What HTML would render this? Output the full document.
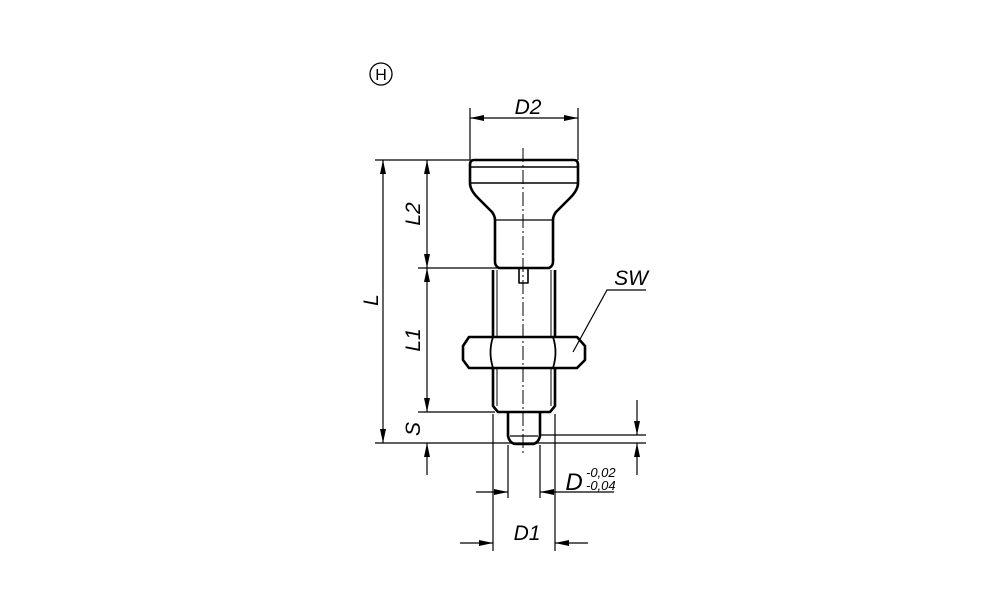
<!DOCTYPE html>
<html><head><meta charset="utf-8"><style>
html,body{margin:0;padding:0;background:#fff;}
svg text{font-family:"Liberation Sans",sans-serif;font-style:italic;fill:#000;}
</style></head><body>
<svg width="1000" height="611" viewBox="0 0 1000 611" xmlns="http://www.w3.org/2000/svg">
<defs>
<marker id="a" viewBox="0 0 14 6" refX="14" refY="3" markerWidth="14" markerHeight="6" orient="auto-start-reverse" markerUnits="userSpaceOnUse"><path d="M0,0 L14,3 L0,6 z" fill="#000"/></marker>
</defs>
<circle cx="381" cy="74" r="11" fill="none" stroke="#000" stroke-width="1.3"/>
<text x="381" y="80" font-size="16" text-anchor="middle" style="font-style:normal">H</text>

<g fill="none" stroke="#000" stroke-width="2.6" stroke-linejoin="round">
<path d="M474,160 L574,160 Q578,160 578,165 L578,183 Q578,190 570,198 L556,212 Q553,216 553,220 L553,262 Q553,266 549,268 L499,268 Q495,266 495,262 L495,220 Q495,216 492,212 L478,198 Q470,190 470,183 L470,165 Q470,160 474,160 Z"/>
<line x1="470" y1="167" x2="578" y2="167" stroke-width="1.6"/>
<line x1="470" y1="183" x2="578" y2="183" stroke-width="1.6"/>
<line x1="495" y1="220" x2="553" y2="220" stroke-width="1.2"/>
<path d="M493,270 L493,406 L498,412 L550,412 L555,406 L555,270"/>
<line x1="497" y1="270" x2="497" y2="406" stroke-width="1"/>
<line x1="551" y1="270" x2="551" y2="406" stroke-width="1"/>
<path d="M519,268 L519,283 L528,283 L528,268" stroke-width="1.6"/>
<path d="M463,346 L469,337 L577,337 L585,346 L585,360 L577,368 L469,368 L463,360 Z" fill="#fff"/>
<path d="M493,337 Q488,352 493,368 M553,337 Q558,352 553,368" stroke-width="1.8"/>
<path d="M508,412 L508,436 Q510,444 516,444 L532,444 Q538,444 540,436 L540,412"/>
<line x1="510" y1="436" x2="538" y2="436" stroke-width="1.2"/>
</g>
<line x1="523" y1="148" x2="523" y2="455" stroke="#000" stroke-width="1" stroke-dasharray="14,3,2,3"/>

<g stroke="#000" stroke-width="1.2" fill="none">
<line x1="375" y1="160" x2="470" y2="160"/>
<line x1="418" y1="268" x2="520" y2="268"/>
<line x1="418" y1="412" x2="495" y2="412"/>
<line x1="375" y1="443" x2="646" y2="443"/>
<line x1="540" y1="435" x2="646" y2="435"/>
<line x1="470" y1="108" x2="470" y2="160"/>
<line x1="578" y1="108" x2="578" y2="160"/>
<line x1="493" y1="414" x2="493" y2="551"/>
<line x1="555" y1="414" x2="555" y2="551"/>
<line x1="508" y1="445" x2="508" y2="498"/>
<line x1="540" y1="445" x2="540" y2="498"/>
<line x1="470" y1="118" x2="578" y2="118" marker-start="url(#a)" marker-end="url(#a)"/>
<line x1="383" y1="160" x2="383" y2="443" marker-start="url(#a)" marker-end="url(#a)"/>
<line x1="427" y1="160" x2="427" y2="268" marker-start="url(#a)" marker-end="url(#a)"/>
<line x1="427" y1="268" x2="427" y2="412" marker-start="url(#a)" marker-end="url(#a)"/>
<line x1="427" y1="475" x2="427" y2="443" marker-end="url(#a)"/>
<line x1="637" y1="400" x2="637" y2="435" marker-end="url(#a)"/>
<line x1="637" y1="475" x2="637" y2="443" marker-end="url(#a)"/>
<line x1="476" y1="492" x2="508" y2="492" marker-end="url(#a)"/>
<line x1="614" y1="492" x2="540" y2="492" marker-end="url(#a)"/>
<line x1="460" y1="543" x2="493" y2="543" marker-end="url(#a)"/>
<line x1="588" y1="543" x2="555" y2="543" marker-end="url(#a)"/>
<polyline points="573,352 607,290 646,290"/>
</g>

<g font-size="21">
<text x="528" y="114" text-anchor="middle">D2</text>
<text x="631" y="285" text-anchor="middle">SW</text>
<text x="527" y="540" text-anchor="middle">D1</text>
<text x="574" y="490" font-size="24" text-anchor="middle">D</text>
<text x="586" y="477" font-size="13">-0,02</text>
<text x="586" y="490" font-size="13">-0,04</text>
<text transform="translate(378,300) rotate(-90)" text-anchor="middle">L</text>
<text transform="translate(420,214) rotate(-90)" text-anchor="middle">L2</text>
<text transform="translate(420,340) rotate(-90)" text-anchor="middle">L1</text>
<text transform="translate(420,429) rotate(-90)" text-anchor="middle">S</text>
</g>
</svg>
</body></html>
